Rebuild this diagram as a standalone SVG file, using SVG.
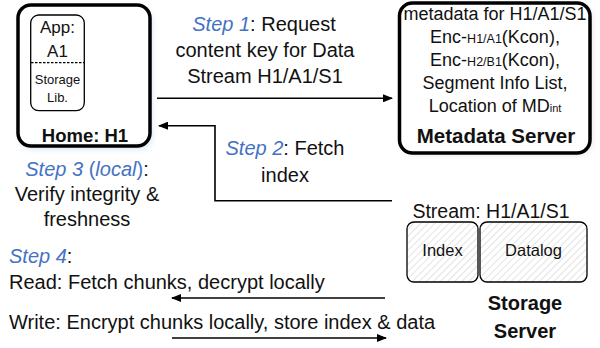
<svg xmlns="http://www.w3.org/2000/svg" width="600" height="348" viewBox="0 0 600 348">
<defs>
<style>
text{font-family:"Liberation Sans",Arial,sans-serif;fill:#111;}
.t{font-size:20px;}
.st{fill:#4472C4;font-style:italic;}
.sb{fill:#4472C4;}
.b{font-weight:bold;}
.m{font-size:18px;}
.box{fill:#fff;stroke:#000;stroke-width:3.5;}
.thin{stroke:#000;stroke-width:1.3;}
.conn{fill:none;stroke:#000;stroke-width:1.6;}
</style>
<pattern id="hatch" width="5" height="5" patternUnits="userSpaceOnUse" patternTransform="rotate(45)">
<rect width="5" height="5" fill="#fff"/>
<line x1="0" y1="0" x2="0" y2="5" stroke="#c8c8c8" stroke-width="1"/>
</pattern>
<marker id="ah" markerWidth="10" markerHeight="8" refX="9" refY="4" orient="auto" markerUnits="userSpaceOnUse">
<path d="M0,0 L10,4 L0,8 z" fill="#000"/>
</marker>
<filter id="glow" x="-20%" y="-20%" width="140%" height="140%">
<feGaussianBlur stdDeviation="3"/>
</filter>
</defs>

<g id="home">
<rect x="20" y="8" width="132" height="141" rx="13" fill="#9dc3e6" opacity="0.45" filter="url(#glow)"/>
<rect class="box" x="18" y="5" width="132" height="141" rx="13"/>
<rect x="30.7" y="15" width="53.6" height="95.7" rx="8" fill="#fff" class="thin"/>
<line x1="31" y1="62.7" x2="84" y2="62.7" stroke="#000" stroke-width="1.3" stroke-dasharray="2.5,1.5"/>
<text x="57.5" y="33" font-size="17" text-anchor="middle">App:</text>
<text x="57.5" y="57" font-size="17" text-anchor="middle">A1</text>
<text x="57.5" y="84" font-size="13" text-anchor="middle">Storage</text>
<text x="57.5" y="102" font-size="13" text-anchor="middle">Lib.</text>
<text x="85" y="142" font-size="18.5" class="b" text-anchor="middle">Home: H1</text>
</g>

<g id="metadata-server">
<rect x="402" y="5" width="190" height="150" rx="13" fill="#bbb" opacity="0.35" filter="url(#glow)"/>
<rect class="box" x="399.5" y="3" width="190.5" height="150" rx="13"/>
<text class="m" x="495" y="20" text-anchor="middle">metadata for H1/A1/S1</text>
<text class="m" x="495" y="43" text-anchor="middle">Enc-<tspan font-size="12.5">H1/A1</tspan>(Kcon),</text>
<text class="m" x="495" y="66" text-anchor="middle">Enc-<tspan font-size="12.5">H2/B1</tspan>(Kcon),</text>
<text class="m" x="495" y="89" text-anchor="middle">Segment Info List,</text>
<text class="m" x="495" y="112" text-anchor="middle">Location of MD<tspan font-size="11">int</tspan></text>
<text x="496" y="143" font-size="20.5" class="b" text-anchor="middle">Metadata Server</text>
</g>

<g id="storage-server">
<text x="491" y="218" font-size="19.5" text-anchor="middle">Stream: H1/A1/S1</text>
<g id="index">
<rect x="407" y="222" width="71" height="60" rx="7" fill="url(#hatch)" class="thin"/>
<text x="442.5" y="256" font-size="16.5" text-anchor="middle">Index</text>
</g>
<g id="datalog">
<rect x="480" y="222" width="107" height="60" rx="7" fill="url(#hatch)" class="thin"/>
<text x="533.5" y="256" font-size="16.5" text-anchor="middle">Datalog</text>
</g>
<text x="525" y="310" font-size="20" class="b" text-anchor="middle">Storage</text>
<text x="525" y="338" font-size="20" class="b" text-anchor="middle">Server</text>
</g>

<g id="connectors">
<line class="conn" x1="157" y1="98.3" x2="392" y2="98.3" marker-end="url(#ah)"/>
<path class="conn" d="M392,200.7 H215 V125.7 H159" marker-end="url(#ah)"/>
<line class="conn" x1="385" y1="298" x2="172" y2="298" marker-end="url(#ah)"/>
<line class="conn" x1="172" y1="338" x2="386" y2="338" marker-end="url(#ah)"/>
</g>

<g id="labels">
<text class="t" x="264" y="31" text-anchor="middle"><tspan class="st">Step 1</tspan>: Request</text>
<text class="t" x="265" y="57" text-anchor="middle">content key for Data</text>
<text class="t" x="265" y="83" text-anchor="middle">Stream H1/A1/S1</text>
<text class="t" x="285" y="155" text-anchor="middle"><tspan class="st">Step 2</tspan>: Fetch</text>
<text class="t" x="285" y="182" text-anchor="middle">index</text>
<text class="t" x="87" y="176" text-anchor="middle"><tspan class="st">Step 3</tspan><tspan class="sb"> (</tspan><tspan class="st">local</tspan><tspan class="sb">)</tspan>:</text>
<text class="t" x="87" y="201" text-anchor="middle">Verify integrity &amp;</text>
<text class="t" x="87" y="226" text-anchor="middle">freshness</text>
<text class="t" x="9" y="263"><tspan class="st">Step 4</tspan>:</text>
<text class="t" x="9" y="289">Read: Fetch chunks, decrypt locally</text>
<text class="t" x="9" y="329">Write: Encrypt chunks locally, store index &amp; data</text>
</g>
</svg>
